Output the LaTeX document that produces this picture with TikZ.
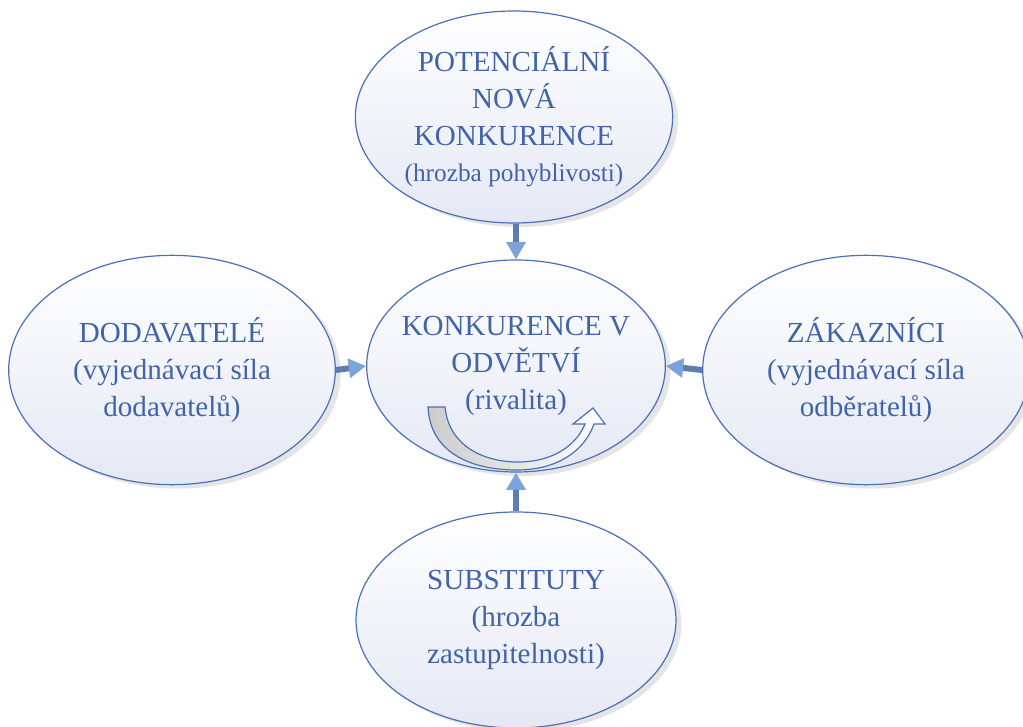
\documentclass[tikz,border=0pt]{standalone}
\usepackage{fontspec}
\setmainfont{Liberation Serif}
\usetikzlibrary{shapes.geometric,arrows.meta,shadows}
\definecolor{txt}{HTML}{3F64AC}
\definecolor{edge}{HTML}{4A70B8}
\definecolor{fillb}{HTML}{E5E8F4}
\definecolor{shaft}{HTML}{5B7DB2}
\definecolor{head}{HTML}{7CA4DA}
\begin{document}
\begin{tikzpicture}[x=0.75pt,y=-0.75pt,
  bubble/.style={ellipse, draw=edge, line width=0.9pt, top color=white, bottom color=fillb,
    inner xsep=-30pt, inner ysep=-10pt, text=txt, align=center, font=\fontsize{21.8}{27.5}\selectfont,
    drop shadow={shadow xshift=4pt, shadow yshift=-3pt, opacity=0.2}},
  force/.style={draw=shaft, line width=4.5pt,
    -{Triangle[width=14pt,length=13pt,fill=head,color=head]}}]
\useasboundingbox (0,0) rectangle (1023,727);
\fill[white] (0,0) rectangle (1023,727);

\node[bubble, minimum width=238pt, minimum height=159pt] (top) at (514,117)
  {POTENCIÁLNÍ\\NOVÁ\\KONKURENCE\\{\fontsize{19}{27.5}\selectfont(hrozba pohyblivosti)}};
\node[bubble, minimum width=224pt, minimum height=159pt] (mid) at (516,366)
  {KONKURENCE V\\ODVĚTVÍ\\(rivalita)};
\node[bubble, minimum width=245pt, minimum height=172pt] (left) at (172,370)
  {DODAVATELÉ\\(vyjednávací síla\\dodavatelů)};
\node[bubble, minimum width=245pt, minimum height=172pt] (right) at (866,370)
  {ZÁKAZNÍCI\\(vyjednávací síla\\odběratelů)};
\node[bubble, minimum width=240pt, minimum height=162pt] (bot) at (516,620)
  {SUBSTITUTY\\(hrozba\\zastupitelnosti)};

\draw[force] (top.south -| mid.north) -- (mid.north);
\draw[force] (bot.north) -- (mid.south);
\draw[force] (left.east) -- (mid.west);
\draw[force] (right.west) -- (mid.east);

% rivalry U-arrow
\shade[left color=gray!40, right color=white, draw=edge, line width=0.9pt]
  (428,407) -- (445,407)
  .. controls (449,447) and (485,462) .. (518,462)
  .. controls (552,462) and (576,446) .. (585,424)
  -- (573,424) -- (593,408) -- (605,424) -- (594,424)
  .. controls (584,452) and (556,470) .. (517,470)
  .. controls (470,470) and (430,452) .. (428,407) -- cycle;
\end{tikzpicture}
\end{document}
